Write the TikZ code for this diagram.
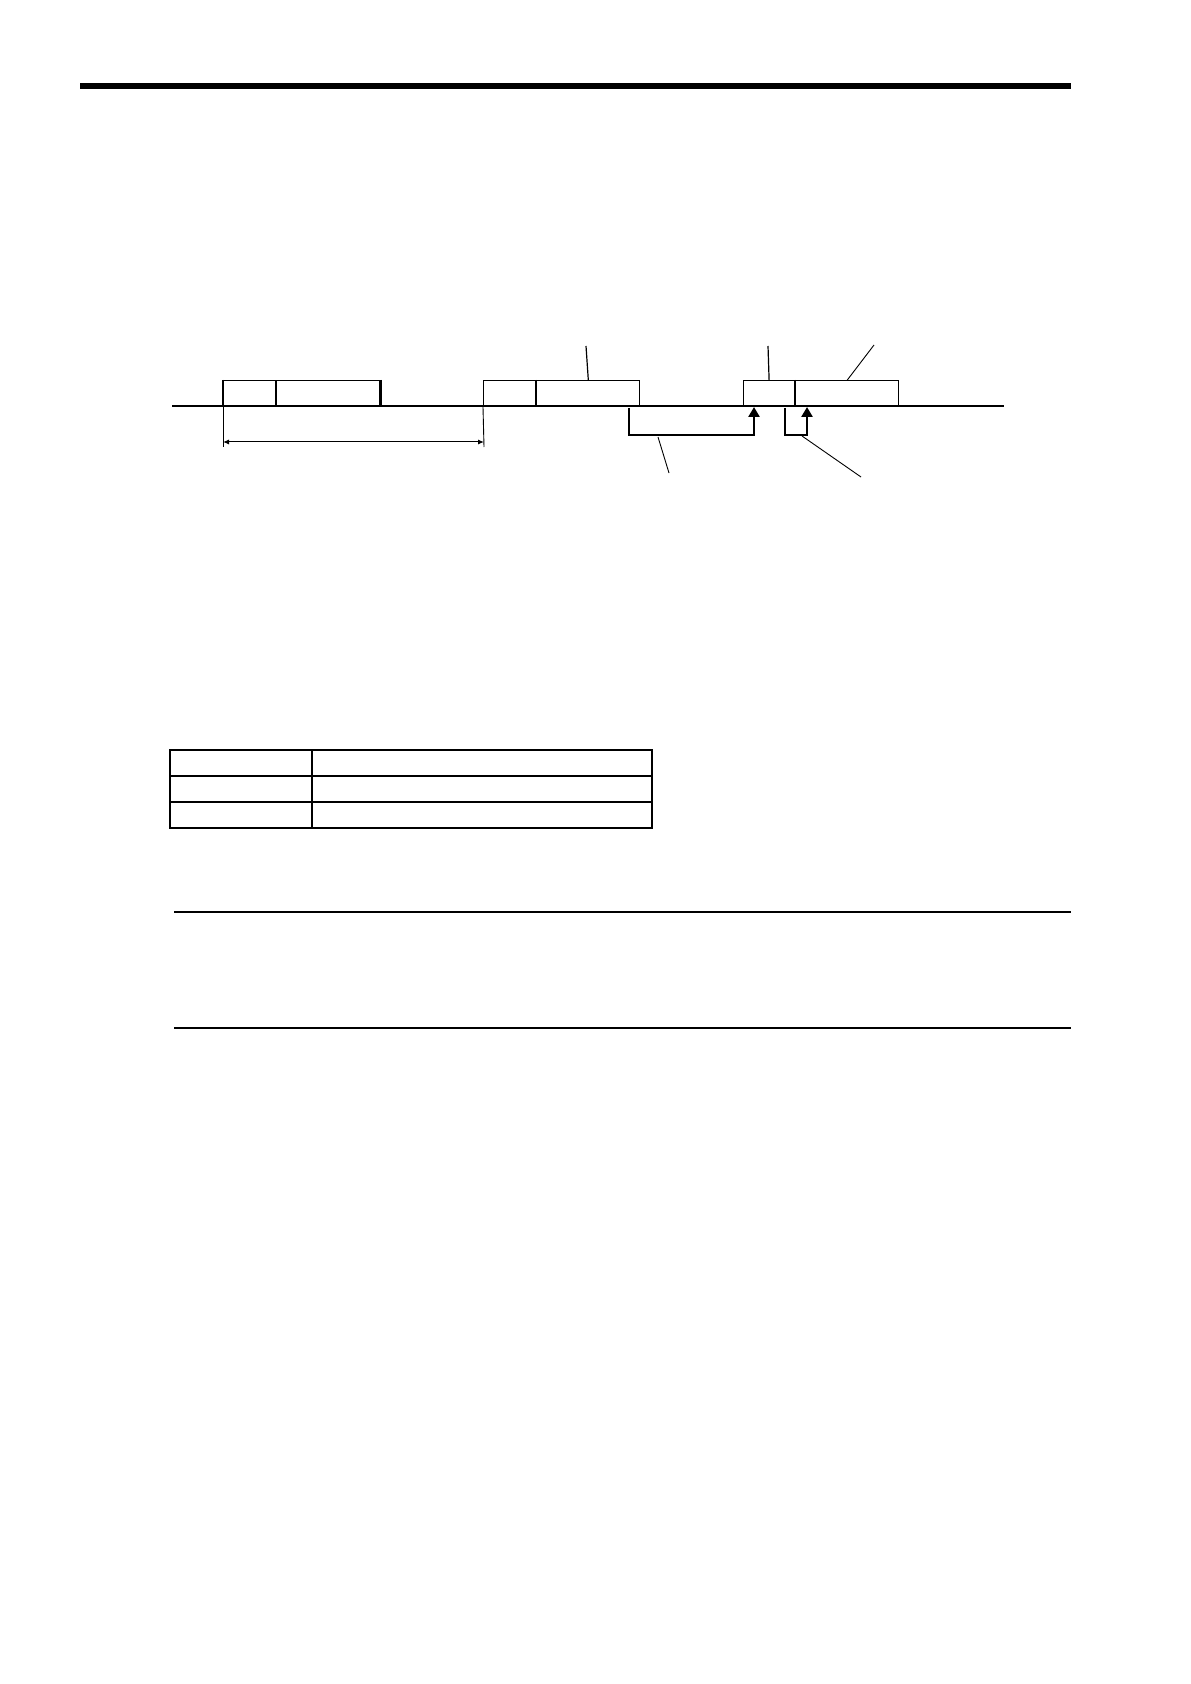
\documentclass[tikz,border=0pt]{standalone}
\usetikzlibrary{arrows.meta}
\begin{document}
\begin{tikzpicture}[x=0.5pt,y=-0.5pt,
  field/.style={draw,line width=0.6pt,inner sep=0pt,minimum height=13pt,anchor=north west},
  thinline/.style={line width=0.6pt},
  thickedge/.style={line width=1.2pt},
  leader/.style={line width=0.45pt},
  bracket/.style={line width=1.45pt,-{Triangle[width=5.5pt,length=5pt]}},
  dimline/.style={line width=0.5pt,{Latex[length=3pt,width=2.5pt]}-{Latex[length=3pt,width=2.5pt]}},
  rulestyle/.style={line width=1.25pt},
  tablestyle/.style={line width=0.65pt}]
\useasboundingbox (0,0) rectangle (1190,1684);

% top bar
\coordinate (tbL) at (80,86);
\coordinate (tbR) at (1071,86);
\draw[line width=2.8pt] (tbL) -- (tbR);

% time axis
\coordinate (axL) at (172,406);
\coordinate (axR) at (1004,406);
\draw[thinline] (axL) -- (axR);

% frames
\node[field,minimum width=26pt] (f1a) at (223,380) {};
\node[field,minimum width=51.5pt] (f1b) at (f1a.north east) {};
\node[field,minimum width=26pt] (f2a) at (483,380) {};
\node[field,minimum width=51.5pt] (f2b) at (f2a.north east) {};
\node[field,minimum width=25.5pt] (f3a) at (743,380) {};
\node[field,minimum width=51.5pt] (f3b) at (f3a.north east) {};

\draw[thickedge] (f1a.north west) -- (f1a.south west);
\draw[thickedge] (f1b.north east) -- (f1b.south east);
\draw[thickedge] (f2b.north west) -- (f2b.south west);
\draw[thickedge] (f3b.north west) -- (f3b.south west);

% leaders above
\coordinate (u1) at (586,346);
\coordinate (u2) at (768,346);
\coordinate (u3) at (874,345);
\draw[thinline] (f2b.north) -- (u1);
\draw[thinline] (f3a.north) -- (u2);
\draw[leader] (f3b.north) -- (u3);

% dimension
\coordinate (d1) at (223,447);
\coordinate (d2) at (484,447);
\coordinate (da) at (223,442);
\coordinate (db) at (484,442);
\draw[leader] (f1a.south west) -- (d1);
\draw[leader] (f2a.south west) -- (d2);
\draw[dimline] (da) -- (db);

% brackets
\coordinate (b1s) at (629,408);
\coordinate (b1c) at (629,435);
\coordinate (b1d) at (754,435);
\coordinate (b1e) at (754,407);
\draw[bracket] (b1s) -- (b1c) -- (b1d) -- (b1e);
\coordinate (b2s) at (785,408);
\coordinate (b2c) at (785,435);
\coordinate (b2d) at (807,435);
\coordinate (b2e) at (807,407);
\draw[bracket] (b2s) -- (b2c) -- (b2d) -- (b2e);

% leaders below
\coordinate (lb1a) at (658,437);
\coordinate (lb1b) at (669,473);
\coordinate (lb2a) at (802,436);
\coordinate (lb2b) at (861,477);
\draw[leader] (lb1a) -- (lb1b);
\draw[leader] (lb2a) -- (lb2b);

% table
\coordinate (tNW) at (170,750);
\coordinate (tSE) at (652,828);
\draw[tablestyle] (tNW) rectangle (tSE);
\draw[tablestyle] (170,776) -- (652,776);
\draw[tablestyle] (170,802) -- (652,802);
\draw[tablestyle] (312,750) -- (312,828);

% rules
\coordinate (r1L) at (174,912);
\coordinate (r1R) at (1071,912);
\coordinate (r2L) at (174,1028);
\coordinate (r2R) at (1071,1028);
\draw[rulestyle] (r1L) -- (r1R);
\draw[rulestyle] (r2L) -- (r2R);
\end{tikzpicture}
\end{document}
